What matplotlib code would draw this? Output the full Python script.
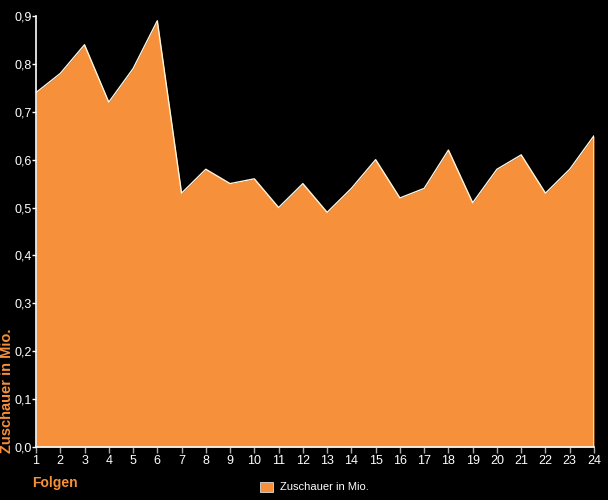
import matplotlib
matplotlib.use("Agg")
import matplotlib.pyplot as plt
from matplotlib.patches import Patch

episodes = list(range(1, 25))
viewers = [0.74, 0.78, 0.84, 0.72, 0.79, 0.89, 0.53, 0.58, 0.55, 0.56, 0.50, 0.55,
           0.49, 0.54, 0.60, 0.52, 0.54, 0.62, 0.51, 0.58, 0.61, 0.53, 0.58, 0.65]
yticks = [0.0, 0.1, 0.2, 0.3, 0.4, 0.5, 0.6, 0.7, 0.8, 0.9]
ytick_labels = ["0,0", "0,1", "0,2", "0,3", "0,4", "0,5", "0,6", "0,7", "0,8", "0,9"]
series_name = "Zuschauer in Mio."

plt.rcParams['font.family'] = ['Liberation Sans', 'DejaVu Sans']
orange = "#f7903a"

fig = plt.figure(figsize=(6.08, 5.00), dpi=100, facecolor="black")
ax = fig.add_axes([36/608, 53/500, (594-36)/608, (447-16)/500], facecolor="black")
ax.fill_between(episodes, viewers, 0, color=orange, linewidth=0)
ax.plot(episodes + [episodes[-1]], viewers + [0], color="#fff6e0", linewidth=1.0)
ax.set_xlim(1, 24)
ax.set_ylim(0, 0.9)
ax.set_xticks(episodes)
ax.set_xticklabels([str(e) for e in episodes])
ax.set_yticks(yticks)
ax.set_yticklabels(ytick_labels)
for s in ["top", "right"]:
    ax.spines[s].set_visible(False)
for s in ["left", "bottom"]:
    ax.spines[s].set_color("white")
    ax.spines[s].set_linewidth(1.2)
ax.tick_params(axis="both", colors="white", labelsize=9, length=4, width=1, pad=2)
ax.tick_params(axis="y", pad=0, length=3)
ax.tick_params(axis="x", color="#aaaaaa")

fig.text(7/608, 47/500, series_name, rotation=90, color=orange, fontsize=10.5,
         fontweight="bold", ha="center", va="bottom")
fig.text(32/608, 17/500, "Folgen", color=orange, fontsize=10, fontweight="bold",
         ha="left", va="center")
leg = fig.legend(handles=[Patch(facecolor=orange, edgecolor="#dddddd", linewidth=0.6, label=series_name)],
                 loc="center", bbox_to_anchor=(314/608, 13/500), frameon=False,
                 fontsize=8, labelcolor="white", handlelength=1.2, handleheight=1.0,
                 handletextpad=0.6)
fig.savefig("out.png", dpi=100, facecolor="black")
